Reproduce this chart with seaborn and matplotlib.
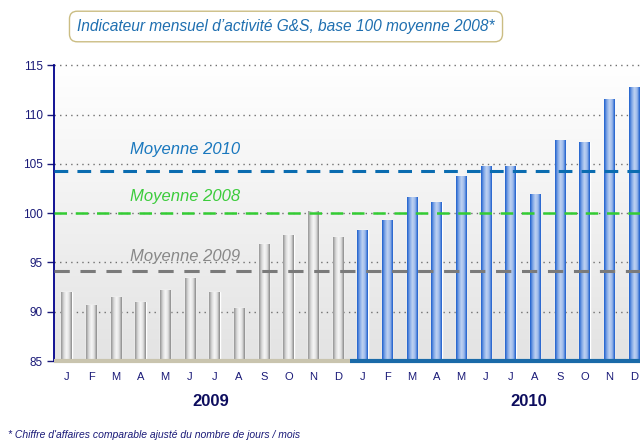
import numpy as np
import pandas as pd
import seaborn as sns
import matplotlib.pyplot as plt
from matplotlib.colors import LinearSegmentedColormap

# Monthly G&S activity index, base 100 = 2008 average
months = ["J", "F", "M", "A", "M", "J", "J", "A", "S", "O", "N", "D"]
years = ["2009", "2010"]
values_2009 = [92.0, 90.7, 91.5, 91.0, 92.2, 93.4, 92.0, 90.4, 96.9, 97.8, 100.2, 97.6]
values_2010 = [98.3, 99.3, 101.6, 101.1, 103.8, 104.8, 104.8, 101.9, 107.4, 107.2, 111.6, 112.8]
mean_labels = ["Moyenne 2010", "Moyenne 2008", "Moyenne 2009"]
mean_values = [104.3, 100.0, 94.1]

df = pd.DataFrame({
    "slot": [f"{y}-{i:02d}" for y in years for i in range(12)],
    "month": months * 2,
    "year": ["2009"] * 12 + ["2010"] * 12,
    "value": values_2009 + values_2010,
})

sns.set_style("white")
plt.rcParams["font.family"] = ["Liberation Sans", "DejaVu Sans"]

navy = "#1a1a78"
fig = plt.figure(figsize=(6.4, 4.41), dpi=100)
ax = fig.add_axes([0.0844, 0.1814, 0.925, 0.6705])

# background: white at top fading to light grey
bg = np.linspace(1.0, 0.0, 256).reshape(-1, 1)
bg_cmap = LinearSegmentedColormap.from_list("bg", ["#e3e3e3", "#ffffff"])
ax.imshow(bg, extent=[0, 1, 0, 1], transform=ax.transAxes, cmap=bg_cmap,
          aspect="auto", zorder=0, origin="upper")
ax.set_facecolor("none")

sns.barplot(data=df, x="slot", y="value", hue="year", dodge=False, width=0.42,
            palette={"2009": "#c8c8c8", "2010": "#4a80d8"}, legend=False, ax=ax,
            zorder=2)

# cylinder shading for the bars
grey_cmap = LinearSegmentedColormap.from_list(
    "g", ["#959595", "#d8d8d8", "#f7f7f7", "#e0e0e0", "#8a8a8a"])
blue_cmap = LinearSegmentedColormap.from_list(
    "b", ["#1d5fcc", "#7fa6e6", "#bfd3f2", "#9ab8ea", "#1a5ccc"])
shade = np.linspace(0, 1, 64).reshape(1, -1)
for patch in list(ax.patches):
    h = patch.get_height()
    if np.isnan(h) or patch.get_width() == 0:
        continue
    x0, w = patch.get_x(), patch.get_width()
    cm = grey_cmap if x0 < 11.5 else blue_cmap
    im = ax.imshow(shade, extent=[x0, x0 + w, 85, h], cmap=cm, aspect="auto", zorder=2.5)
    im.set_clip_path(patch)

# dotted grid lines
for g in [90, 95, 100, 105, 110, 115]:
    ax.axhline(g, color="#707070", lw=1, linestyle=(0, (1, 3)), zorder=1, clip_on=False)

# average lines
ax.axhline(mean_values[0], color="#0a6cb0", lw=2.2, dashes=(4.5, 3), zorder=4)
ax.axhline(mean_values[1], color="#33cc33", lw=1.8, dashes=(5, 3.5), zorder=4)
ax.axhline(mean_values[2], color="#7a7a7a", lw=2.2, dashes=(5, 3.5), zorder=4)
ax.text(4.83, 106.0, mean_labels[0], color="#1a78be", fontsize=12, style="italic",
        ha="center", va="baseline", zorder=5)
ax.text(4.83, 101.2, mean_labels[1], color="#3ccc3c", fontsize=12, style="italic",
        ha="center", va="baseline", zorder=5)
ax.text(4.83, 95.1, mean_labels[2], color="#888888", fontsize=12, style="italic",
        ha="center", va="baseline", zorder=5)

# thick baseline, beige for 2009 and blue for 2010
ax.plot([-0.5, 11.5], [85, 85], color="#c9c4ae", lw=3, solid_capstyle="butt",
        clip_on=False, zorder=6)
ax.plot([11.5, 23.8], [85, 85], color="#1a6aa8", lw=3, solid_capstyle="butt",
        clip_on=False, zorder=6)

ax.set_xlim(-0.5, 23.5)
ax.set_ylim(85, 115)
ax.set_yticks([85, 90, 95, 100, 105, 110, 115])
ax.set_xticks(range(24))
ax.set_xticklabels(months * 2)
ax.set_xticks(np.arange(-0.5, 24, 1), minor=True)
ax.tick_params(axis="x", which="major", length=0, pad=8, labelsize=8, labelcolor=navy)
ax.tick_params(axis="x", which="minor", length=4, width=1, color=navy, direction="out")
ax.tick_params(axis="y", length=5, width=1, color=navy, direction="out",
               labelsize=8.5, labelcolor=navy, pad=3, left=True)
ax.set_xlabel("")
ax.set_ylabel("")
for side in ["top", "right", "bottom"]:
    ax.spines[side].set_visible(False)
ax.spines["left"].set_color("#00008b")
ax.spines["left"].set_linewidth(1.3)

# year labels
fig.text(211 / 640, 1 - 401 / 441, "2009", fontsize=12, fontweight="bold",
         color="#0d0d5e", ha="center", va="center")
fig.text(529 / 640, 1 - 401 / 441, "2010", fontsize=12, fontweight="bold",
         color="#0d0d5e", ha="center", va="center")

# title box
fig.text(286 / 640, 1 - 26.5 / 441, "Indicateur mensuel d\u2019activit\u00e9 G&S, base 100 moyenne 2008*",
         fontsize=11.2, style="italic", color="#1f6fb0", ha="center", va="center",
         bbox=dict(boxstyle="round,pad=0.5,rounding_size=0.5", fc="white",
                   ec="#cbbd83", lw=1))

# footnote
fig.text(8 / 640, 0.007, "* Chiffre d'affaires comparable ajust\u00e9 du nombre de jours / mois",
         fontsize=7.5, style="italic", color=navy, ha="left", va="baseline")

plt.savefig("out.png", dpi=100)
